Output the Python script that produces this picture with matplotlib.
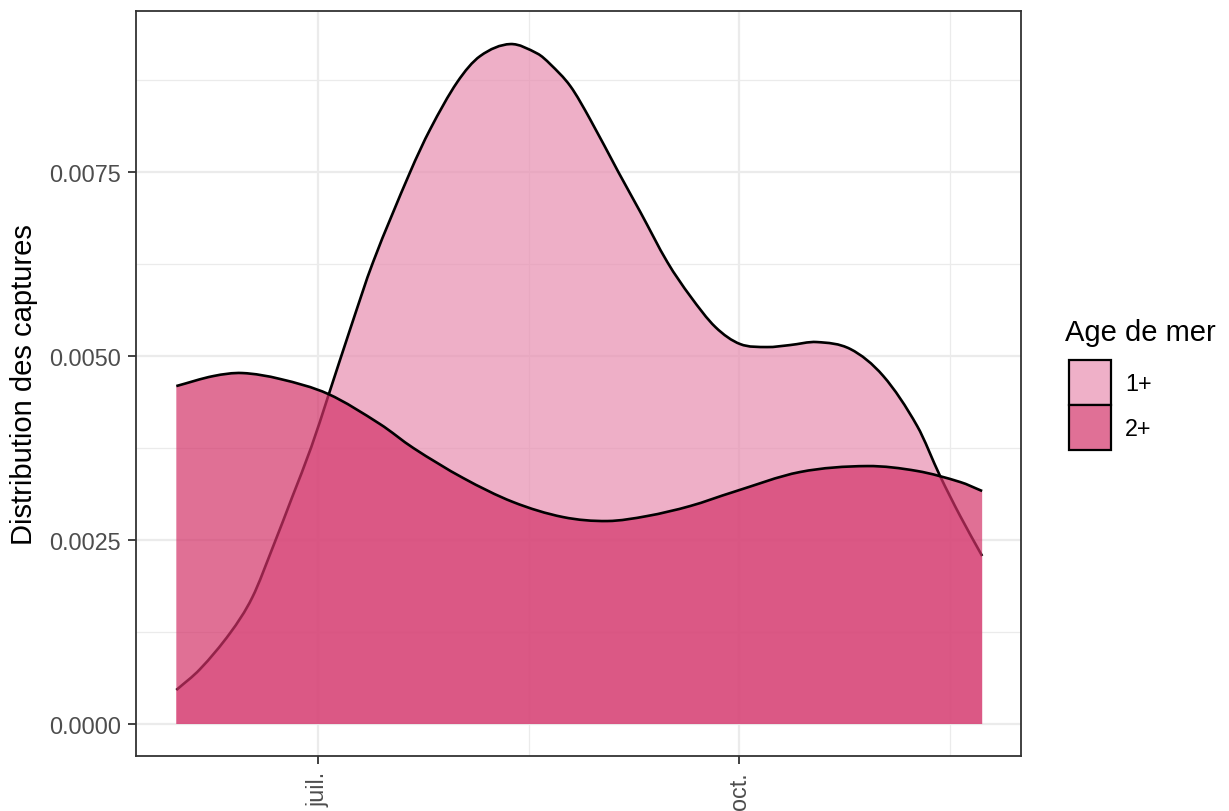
import matplotlib.pyplot as plt
from matplotlib.patches import Patch, PathPatch
from matplotlib.path import Path
from matplotlib.ticker import FixedLocator

plt.rcParams['font.family'] = ['Liberation Sans', 'DejaVu Sans']

# ---- data (day of year, density) ----
age_labels = ['1+', '2+']

days_1 = [151.0, 156.2, 162.8, 167.6, 172.2, 176.3, 180.5, 184.2, 189.0, 194.0,
          202.1, 206.5, 212.4, 217.4, 224.0, 229.9, 232.7, 237.1, 241.4, 247.6,
          252.4, 258.3, 263.3, 268.8, 274.2, 280.1, 285.1, 291.0, 298.3, 305.5,
          312.9, 317.9, 322.3, 327.1]
dens_1 = [0.000462, 0.000747, 0.00124, 0.00172, 0.00242, 0.003080, 0.003764,
          0.004457, 0.005367, 0.006277, 0.0075, 0.008084, 0.008723, 0.009076,
          0.009239, 0.009110, 0.008967, 0.008668, 0.00822, 0.0075, 0.006957,
          0.006277, 0.005815, 0.005394, 0.005163, 0.005122, 0.005149, 0.00519,
          0.005095, 0.004728, 0.004049, 0.00337, 0.002826, 0.002283]

days_2 = [151.0, 159.1, 165.4, 173.7, 184.2, 195.5, 202.8, 213.7, 224.6, 235.5,
          245.2, 253.9, 263.3, 272.7, 287.3, 302.0, 312.9, 322.3, 327.1]
dens_2 = [0.004592, 0.004728, 0.004769, 0.004688, 0.004484, 0.004076, 0.00375,
          0.003342, 0.003016, 0.002812, 0.002758, 0.002826, 0.002962, 0.003152,
          0.003424, 0.003505, 0.003438, 0.003288, 0.003166]

x_ticks = [182, 274]
x_ticklabels = ['juil.', 'oct.']
x_minor = [228, 320]
y_ticks = [0.0, 0.0025, 0.005, 0.0075]
y_ticklabels = ['0.0000', '0.0025', '0.0050', '0.0075']
y_minor = [0.00125, 0.00375, 0.00625, 0.00875]

fill_cols = ['#E88EB0', '#D33369']
key_cols = ['#EFB0C8', '#E07096']
alpha = 0.7


def smooth_path(xs, ys, closed_to_zero=False):
    # smooth curve through the read points (Hermite slopes, cubic Beziers)
    n = len(xs)
    m = []
    for i in range(n):
        a, b = max(i - 1, 0), min(i + 1, n - 1)
        m.append((ys[b] - ys[a]) / (xs[b] - xs[a]))
    verts, codes = [], []
    if closed_to_zero:
        verts += [(xs[0], 0.0), (xs[0], ys[0])]
        codes += [Path.MOVETO, Path.LINETO]
    else:
        verts.append((xs[0], ys[0]))
        codes.append(Path.MOVETO)
    for i in range(n - 1):
        h = (xs[i + 1] - xs[i]) / 3
        verts += [(xs[i] + h, ys[i] + m[i] * h),
                  (xs[i + 1] - h, ys[i + 1] - m[i + 1] * h),
                  (xs[i + 1], ys[i + 1])]
        codes += [Path.CURVE4] * 3
    if closed_to_zero:
        verts += [(xs[-1], 0.0), (xs[0], 0.0)]
        codes += [Path.LINETO, Path.CLOSEPOLY]
    return Path(verts, codes)


# ---- figure ----
fig = plt.figure(figsize=(12.29, 8.12), dpi=100)
ax = fig.add_axes([0.1107, 0.0677, 0.7201, 0.9175])

series = [(days_1, dens_1), (days_2, dens_2)]
for i, (xs, ys) in enumerate(series):
    ax.add_patch(PathPatch(smooth_path(xs, ys, True), facecolor=fill_cols[i],
                           alpha=alpha, lw=0, zorder=2 + 2 * i))
    ax.add_patch(PathPatch(smooth_path(xs, ys), fill=False, edgecolor='black',
                           lw=1.9, zorder=3 + 2 * i))

ax.set_xlim(142.2, 335.6)
ax.set_ylim(-0.000435, 0.009688)

ax.set_xticks(x_ticks)
ax.set_xticklabels(x_ticklabels, rotation=90)
ax.set_yticks(y_ticks)
ax.set_yticklabels(y_ticklabels)
ax.xaxis.set_minor_locator(FixedLocator(x_minor))
ax.yaxis.set_minor_locator(FixedLocator(y_minor))

ax.grid(True, which='major', color='#EBEBEB', lw=1.6, zorder=0)
ax.grid(True, which='minor', color='#EBEBEB', lw=0.9, zorder=0)
ax.set_axisbelow(True)
ax.tick_params(which='minor', length=0)
ax.tick_params(which='major', length=5.8, width=1.3, color='#333333',
               labelsize=16.8, labelcolor='#4D4D4D', pad=5)
for s in ax.spines.values():
    s.set_color('#333333')
    s.set_linewidth(1.3)

ax.set_ylabel('Distribution des captures', fontsize=21, color='black', labelpad=8)

handles = [Patch(facecolor=key_cols[i], edgecolor='black', lw=1.6) for i in range(2)]
leg = fig.legend(handles, age_labels, title='Age de mer', loc='upper left',
                 bbox_to_anchor=(0.8666, 0.607), frameon=False, fontsize=16.8,
                 title_fontsize=21, handlelength=1.8, handleheight=2.59,
                 labelspacing=0.0, handletextpad=0.77, borderaxespad=0,
                 borderpad=0)
leg._legend_box.align = 'left'
leg._legend_box.sep = 10
for h in leg.legend_handles:
    h.set_x(h.get_x() + 3)

fig.savefig('out.png', dpi=100)
